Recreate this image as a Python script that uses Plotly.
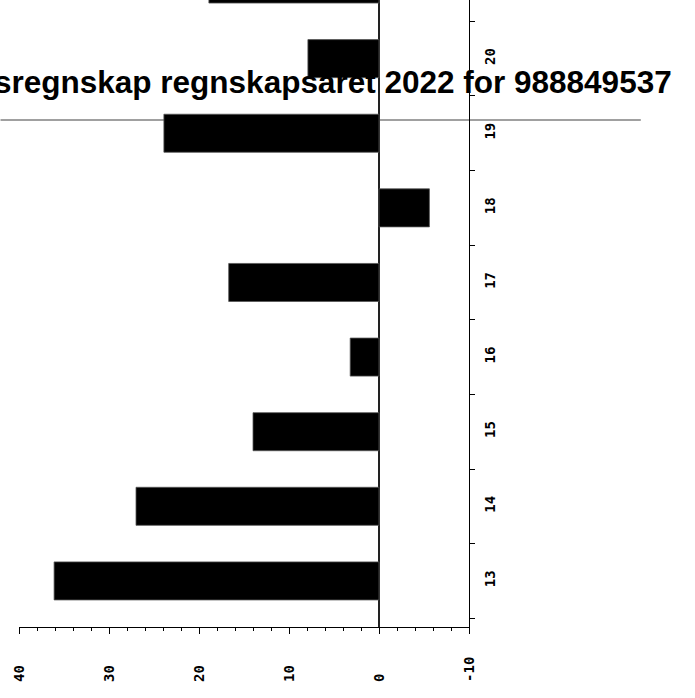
import plotly.graph_objects as go

categories = ["13", "14", "15", "16", "17", "18", "19", "20", "21"]
values = [36.1, 27.0, 14.0, 3.2, 16.7, -5.6, 23.9, 7.9, 18.9]
x_tick_vals = [40, 30, 20, 10, 0, -10]
x_tick_text = ["40\u00a0", "30\u00a0", "20\u00a0", "10\u00a0", "0\u00a0\u00a0", "-10"]
title_text = "Årsregnskap regnskapsåret 2022 for 988849537"

W, H = 695, 698
mono = "DejaVu Sans Mono"
ML, MR, MT, MB = 18.5, 226, 0, 70.7

fig = go.Figure(
    go.Bar(
        x=values,
        y=categories,
        orientation="h",
        marker=dict(color="black", line=dict(color="#555555", width=0.8)),
        width=0.51,
        hoverinfo="skip",
    )
)

fig.update_layout(
    template="none",
    width=W,
    height=H,
    margin=dict(l=ML, r=MR, t=MT, b=MB, pad=0, autoexpand=False),
    paper_bgcolor="white",
    plot_bgcolor="white",
    showlegend=False,
    xaxis=dict(
        automargin=False,
        range=[40, -10],
        tickmode="array",
        tickvals=x_tick_vals,
        ticktext=x_tick_text,
        tickangle=-90,
        tickfont=dict(family=mono, size=14, color="black", weight="bold"),
        ticks="outside",
        ticklen=6,
        tickcolor="black",
        tickwidth=1,
        ticklabelstandoff=17,
        minor=dict(dtick=2, ticks="outside", ticklen=3, tickcolor="black", tickwidth=1, showgrid=False),
        showline=True,
        linecolor="black",
        linewidth=1,
        showgrid=False,
        zeroline=True,
        zerolinecolor="#222222",
        zerolinewidth=2,
        fixedrange=True,
    ),
    yaxis=dict(
        automargin=False,
        type="category",
        categoryorder="array",
        categoryarray=categories,
        range=[-0.6175, 7.786],
        side="right",
        tickson="boundaries",
        ticks="outside",
        ticklen=5,
        tickcolor="black",
        tickwidth=1,
        tickangle=-90,
        tickfont=dict(family=mono, size=14, color="black", weight="bold"),
        ticklabelstandoff=8,
        showline=True,
        linecolor="black",
        linewidth=1,
        showgrid=False,
        zeroline=False,
        fixedrange=True,
    ),
)

# thin grey rule crossing the figure
plot_h = H - MB - MT
plot_w = W - ML - MR
rule_y = (plot_h - 120) / plot_h
fig.add_shape(
    type="line",
    xref="paper",
    yref="paper",
    x0=(0 - ML) / plot_w,
    x1=(641 - ML) / plot_w,
    y0=rule_y,
    y1=rule_y,
    line=dict(color="#808080", width=1.5),
    layer="below",
)

fig.add_annotation(
    text=title_text,
    xref="paper",
    yref="paper",
    x=(674 - ML) / plot_w,
    y=(plot_h - 82.5) / plot_h,
    xanchor="right",
    yanchor="middle",
    showarrow=False,
    font=dict(family="Liberation Sans", size=31.5, color="black", weight="bold"),
)

fig.write_html(
    "out.html",
    config={"displayModeBar": False},
    post_script="document.body.style.margin='0';document.body.style.overflow='hidden';",
)
